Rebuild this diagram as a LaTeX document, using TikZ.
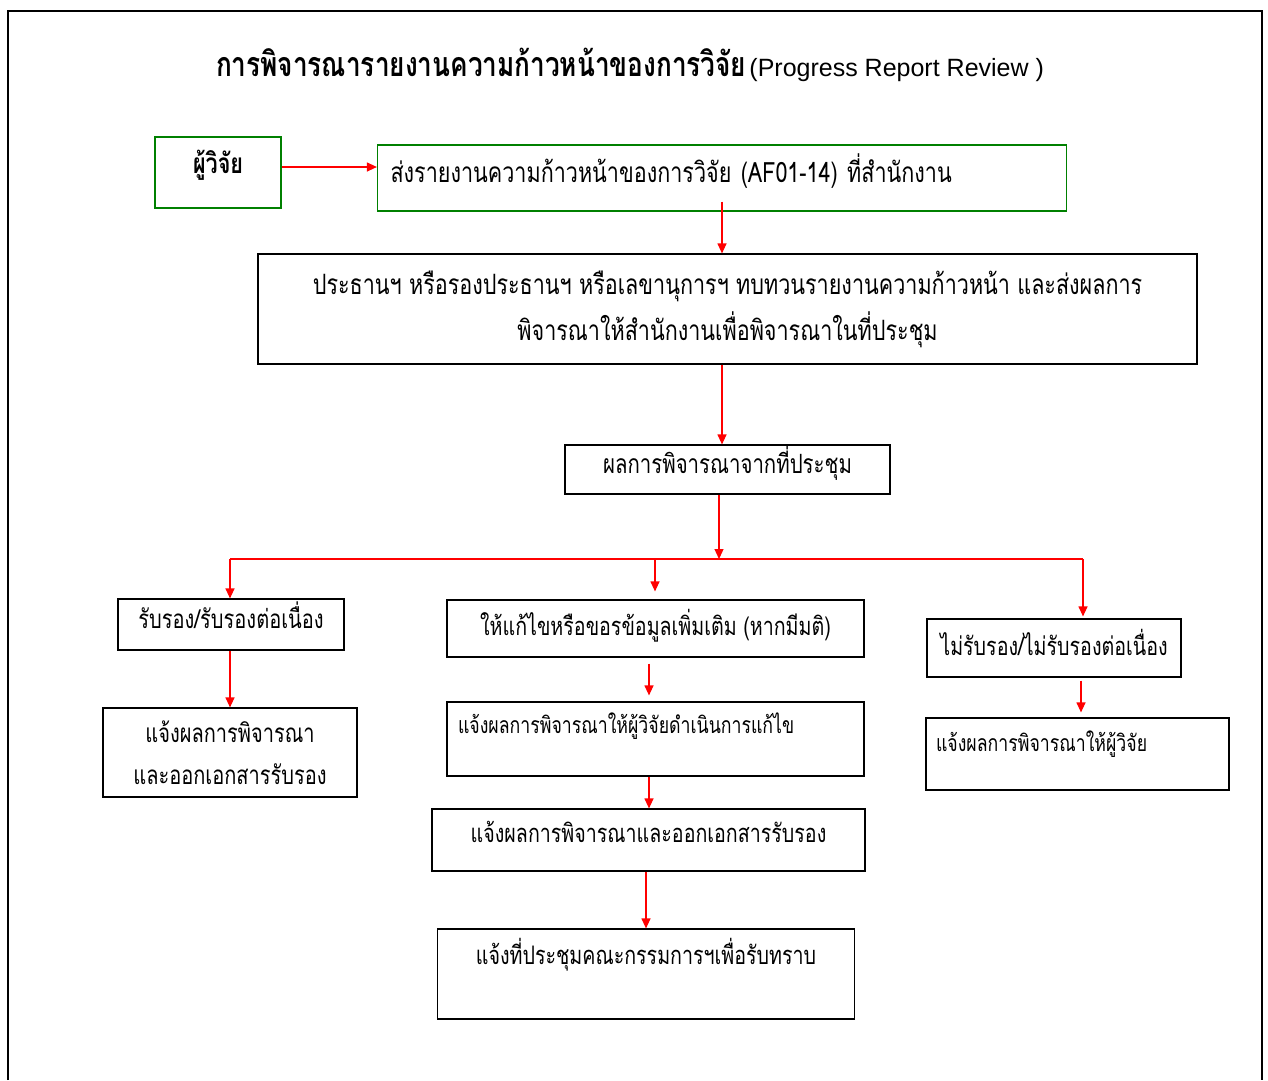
\documentclass[tikz,border=0pt]{standalone}
\usepackage{fontspec}
\newfontfamily\thai[Script=Thai, FakeStretch=0.77]{Loma}
\newfontfamily\arial{Liberation Sans}
\usetikzlibrary{arrows.meta}
\definecolor{boxgreen}{RGB}{0,128,0}

\begin{document}
\begin{tikzpicture}[x=1pt, y=-1pt,
	box/.style={draw, rectangle, inner sep=0pt, line width=1.2pt, font=\thai\fontsize{25.5}{30}\selectfont},
	greenbox/.style={box, draw=boxgreen, font=\thai\fontsize{28}{32}\selectfont},
	smalltext/.style={font=\thai\fontsize{23}{27}\selectfont},
	arrow/.style={draw=red, line width=1.2pt, -{Triangle[length=10pt, width=9pt]}},
	line/.style={draw=red, line width=1.2pt}]
	\useasboundingbox (0,0) rectangle (1268,1080);
	\draw[line width=2pt] (8,1080) |- (1262,11) -- (1262,1080);

	\node (title) at (630,65) {{\thai\bfseries\fontsize{34}{38}\selectfont การพิจารณารายงานความก้าวหน้าของการวิจัย} {\arial\fontsize{25}{28}\selectfont (Progress Report Review )}};

	\node[greenbox, minimum width=126pt, text height=36pt, text depth=35pt]	(researcher)	at (218,172.5)	{\bfseries ผู้วิจัย};
	\node[greenbox, inner xsep=13pt, text width=663pt, align=left, text height=37pt, text depth=29pt]	(send)	at (722,178)	{ส่งรายงานความก้าวหน้าของการวิจัย (AF01-14) ที่สำนักงาน};
	\node[box, minimum width=939pt, minimum height=110pt, align=center, font=\thai\fontsize{28}{46}\selectfont]	(chair)	at (727.5,309)	{ประธานฯ หรือรองประธานฯ หรือเลขานุการฯ ทบทวนรายงานความก้าวหน้า และส่งผลการ\\พิจารณาให้สำนักงานเพื่อพิจารณาในที่ประชุม};
	\node[box, minimum width=325pt, text height=28pt, text depth=21pt, font=\thai\fontsize{26.5}{30}\selectfont]	(result)	at (727.5,469.5)	{ผลการพิจารณาจากที่ประชุม};

	\node[box, minimum width=226pt, text height=29pt, text depth=22pt, font=\thai\fontsize{26}{30}\selectfont]	(accept)	at (231,624.5)	{รับรอง/รับรองต่อเนื่อง};
	\node[box, minimum width=254pt, minimum height=89pt, align=center, font=\thai\fontsize{26}{42}\selectfont]	(notify1)	at (230,752.5)	{แจ้งผลการพิจารณา\\และออกเอกสารรับรอง};

	\node[box, minimum width=417pt, text height=35pt, text depth=22pt]	(revise)	at (655.5,628.5)	{ให้แก้ไขหรือขอรข้อมูลเพิ่มเติม (หากมีมติ)};
	\node[box, smalltext, inner xsep=11pt, text width=395pt, align=left, text height=31pt, text depth=43pt]	(notify2)	at (655.5,739)	{แจ้งผลการพิจารณาให้ผู้วิจัยดำเนินการแก้ไข};
	\node[box, minimum width=433pt, text height=33pt, text depth=29pt]	(notify3)	at (648.5,840)	{แจ้งผลการพิจารณาและออกเอกสารรับรอง};
	\node[box, minimum width=417pt, text height=35pt, text depth=55pt]	(meeting)	at (646,974)	{แจ้งที่ประชุมคณะกรรมการฯเพื่อรับทราบ};

	\node[box, minimum width=254pt, text height=36pt, text depth=22pt]	(reject)	at (1054,648)	{ไม่รับรอง/ไม่รับรองต่อเนื่อง};
	\node[box, smalltext, inner xsep=10pt, text width=283pt, align=left, text height=33pt, text depth=39pt]	(notify4)	at (1077.5,754)	{แจ้งผลการพิจารณาให้ผู้วิจัย};

	\coordinate	(fork)	at (719,559);
	\coordinate	(forkL)	at (230,559);
	\coordinate	(forkM)	at (655,559);
	\coordinate	(forkR)	at (1083,559);

	\draw[arrow]	([yshift=5.5pt]researcher.east) -- ([yshift=5.5pt]researcher.east -| send.west);
	\draw[arrow]	([yshift=10pt]send.south) -- (send.south |- chair.north);
	\draw[arrow]	(chair.south -| send.south) -- (result.north -| send.south);
	\draw[arrow]	(result.south -| fork) -- (fork);
	\draw[line]	(forkL) -- (forkR);
	\draw[arrow]	(forkL) -- (accept.north -| forkL);
	\draw[arrow, shorten >=8pt]	(forkM) -- (revise.north -| forkM);
	\draw[arrow, shorten >=2pt]	(forkR) -- (reject.north -| forkR);
	\draw[arrow]	(accept.south -| forkL) -- (notify1.north -| forkL);
	\draw[arrow, shorten <=6pt, shorten >=6pt]	([xshift=-6.5pt]revise.south) -- ([xshift=-6.5pt]notify2.north);
	\draw[arrow]	([xshift=-6.5pt]notify2.south) -- ([xshift=-6.5pt]notify2.south |- notify3.north);
	\draw[arrow]	(meeting.north |- notify3.south) -- (meeting.north);
	\draw[arrow, shorten <=3pt, shorten >=5pt]	([xshift=27pt]reject.south) -- ([xshift=27pt]reject.south |- notify4.north);
\end{tikzpicture}
\end{document}
